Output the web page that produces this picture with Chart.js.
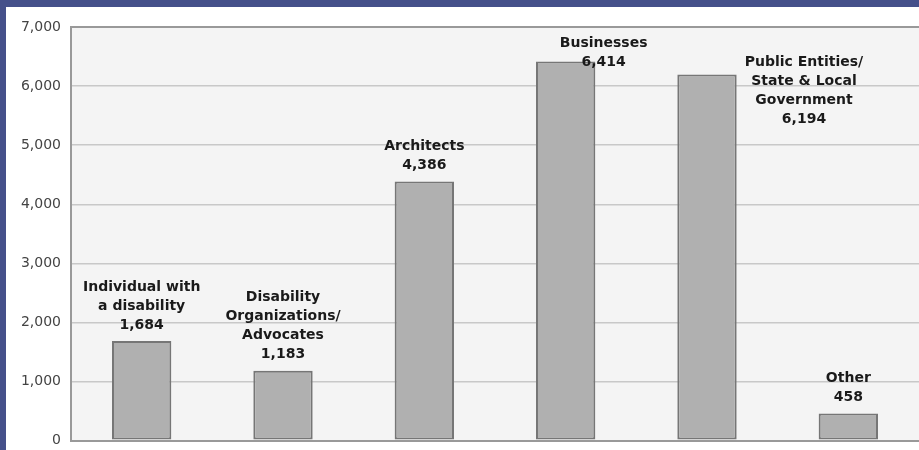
<!DOCTYPE html>
<html>
<head>
<meta charset="utf-8">
<script src="https://cdn.jsdelivr.net/npm/chart.js@4"></script>
<style>
  html, body { margin: 0; padding: 0; }
  body { width: 919px; height: 450px; background: #45508a; position: relative; overflow: hidden; }
  #frame { position: absolute; left: 6px; top: 7px; width: 913px; height: 443px; background: #fff; overflow: hidden; }
</style>
</head>
<body>
<div id="frame"><canvas id="chart" width="913" height="452"></canvas></div>
<script>
// === DATOS ===
const categories = [
  ["Individual with", "a disability"],
  ["Disability", "Organizations/", "Advocates"],
  ["Architects"],
  ["Businesses"],
  ["Public Entities/", "State & Local", "Government"],
  ["Other"]
];
const counts = [1684, 1183, 4386, 6414, 6194, 458];
const yTicks = [0, 1000, 2000, 3000, 4000, 5000, 6000, 7000];

function formatNum(n) {
  return n.toLocaleString("en-US");
}

// fondo gris del area de la grafica
const plotBackground = {
  id: "plotBackground",
  beforeDraw(chart) {
    const { ctx, chartArea: a } = chart;
    ctx.save();
    ctx.fillStyle = "#f4f4f4";
    ctx.fillRect(a.left, a.top, a.right - a.left, a.bottom - a.top);
    ctx.restore();
  }
};

// etiquetas encima de cada barra (texto + valor)
const barLabels = {
  id: "barLabels",
  afterDatasetsDraw(chart) {
    const ctx = chart.ctx;
    const shift = [[0, 0], [0, 0], [0, 0], [38, 17], [97, 61], [0, 0]];
    const lineH = 19;
    ctx.save();
    ctx.font = "bold 14px 'DejaVu Sans'";
    ctx.fillStyle = "#1a1a1a";
    ctx.textAlign = "center";
    ctx.textBaseline = "middle";
    chart.getDatasetMeta(0).data.forEach((bar, i) => {
      const lines = categories[i].concat([formatNum(counts[i])]);
      const x = bar.x + shift[i][0];
      const yLast = bar.y - 16 + shift[i][1];
      lines.forEach((t, j) => {
        ctx.fillText(t, x, yLast - (lines.length - 1 - j) * lineH);
      });
    });
    ctx.restore();
  }
};

new Chart(document.getElementById("chart"), {
  type: "bar",
  data: {
    labels: categories.map((c) => c.join(" ")),
    datasets: [{
      data: counts,
      backgroundColor: "#b0b0b0",
      borderColor: "#767676",
      borderWidth: 2,
      borderSkipped: false,
      categoryPercentage: 1,
      barPercentage: 0.42
    }]
  },
  options: {
    responsive: false,
    animation: false,
    layout: { padding: { top: 20, bottom: 2, left: 0, right: 0 } },
    plugins: { legend: { display: false }, tooltip: { enabled: false } },
    scales: {
      x: { display: false },
      y: {
        min: 0,
        max: 7000,
        afterFit(scale) { scale.width = 65; },
        afterBuildTicks(scale) { scale.ticks = yTicks.map((v) => ({ value: v })); },
        ticks: {
          padding: 10,
          color: "#444",
          font: { family: "'DejaVu Sans'", size: 14 },
          callback: (v) => formatNum(v)
        },
        grid: {
          drawTicks: false,
          color: (c) => (c.tick.value === 0 || c.tick.value === 7000 ? "#999" : "#c8c8c8"),
          lineWidth: (c) => (c.tick.value === 0 || c.tick.value === 7000 ? 2 : 1.5)
        },
        border: { color: "#999", width: 2 }
      }
    }
  },
  plugins: [plotBackground, barLabels]
});
</script>
</body>
</html>
